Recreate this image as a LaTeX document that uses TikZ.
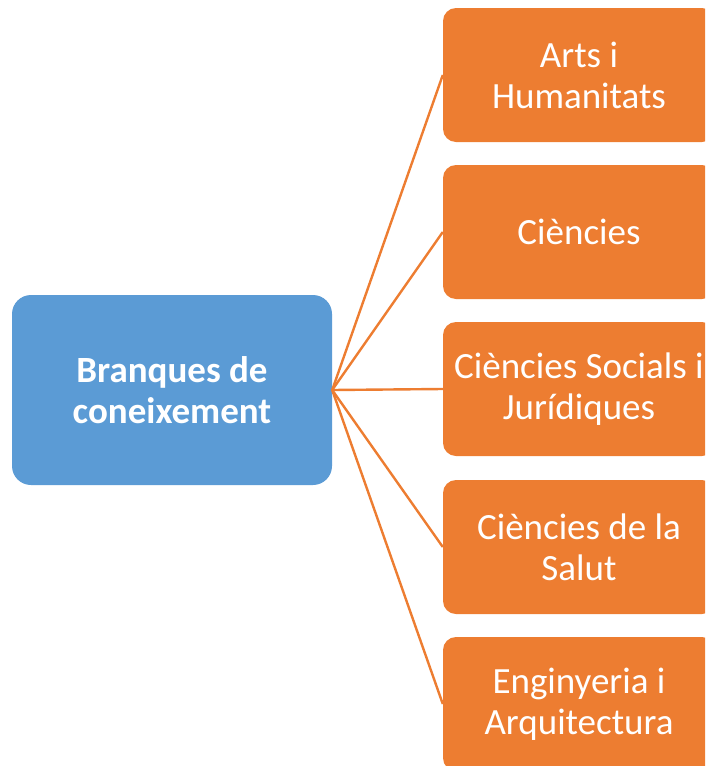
\documentclass[tikz,border=0pt]{standalone}
\usepackage{fontspec}
\setmainfont{Carlito}
\definecolor{orangec}{HTML}{ED7D31}
\definecolor{bluec}{HTML}{5B9BD5}
\begin{document}
\begin{tikzpicture}[x=1pt,y=-1pt,
  branch/.style={fill=orangec, rounded corners=13pt, minimum width=272pt, minimum height=134pt, text=white, align=center, font=\fontsize{37}{41}\selectfont, inner sep=0pt},
  rootbox/.style={fill=bluec, rounded corners=19pt, minimum width=320pt, minimum height=190pt, text=white, align=center, font=\fontsize{37}{41}\selectfont\bfseries, inner sep=0pt},
  link/.style={draw=orangec, line width=2.4pt}]
\useasboundingbox (0,0) rectangle (705,766);
\clip (0,0) rectangle (705,766);
\node[rootbox] (root) at (172,390) {Branques de\\coneixement};
\node[branch] (b1) at (579,75) {Arts i\\Humanitats};
\node[branch] (b2) at (579,232) {Ciències};
\node[branch] (b3) at (579,389) {Ciències Socials i\\Jurídiques};
\node[branch] (b4) at (579,547) {Ciències de la\\Salut};
\node[branch] (b5) at (579,704) {Enginyeria i\\Arquitectura};
\foreach \b in {b1,b2,b3,b4,b5}{
  \draw[link] (root.east) -- (\b.west);
}
\end{tikzpicture}
\end{document}
